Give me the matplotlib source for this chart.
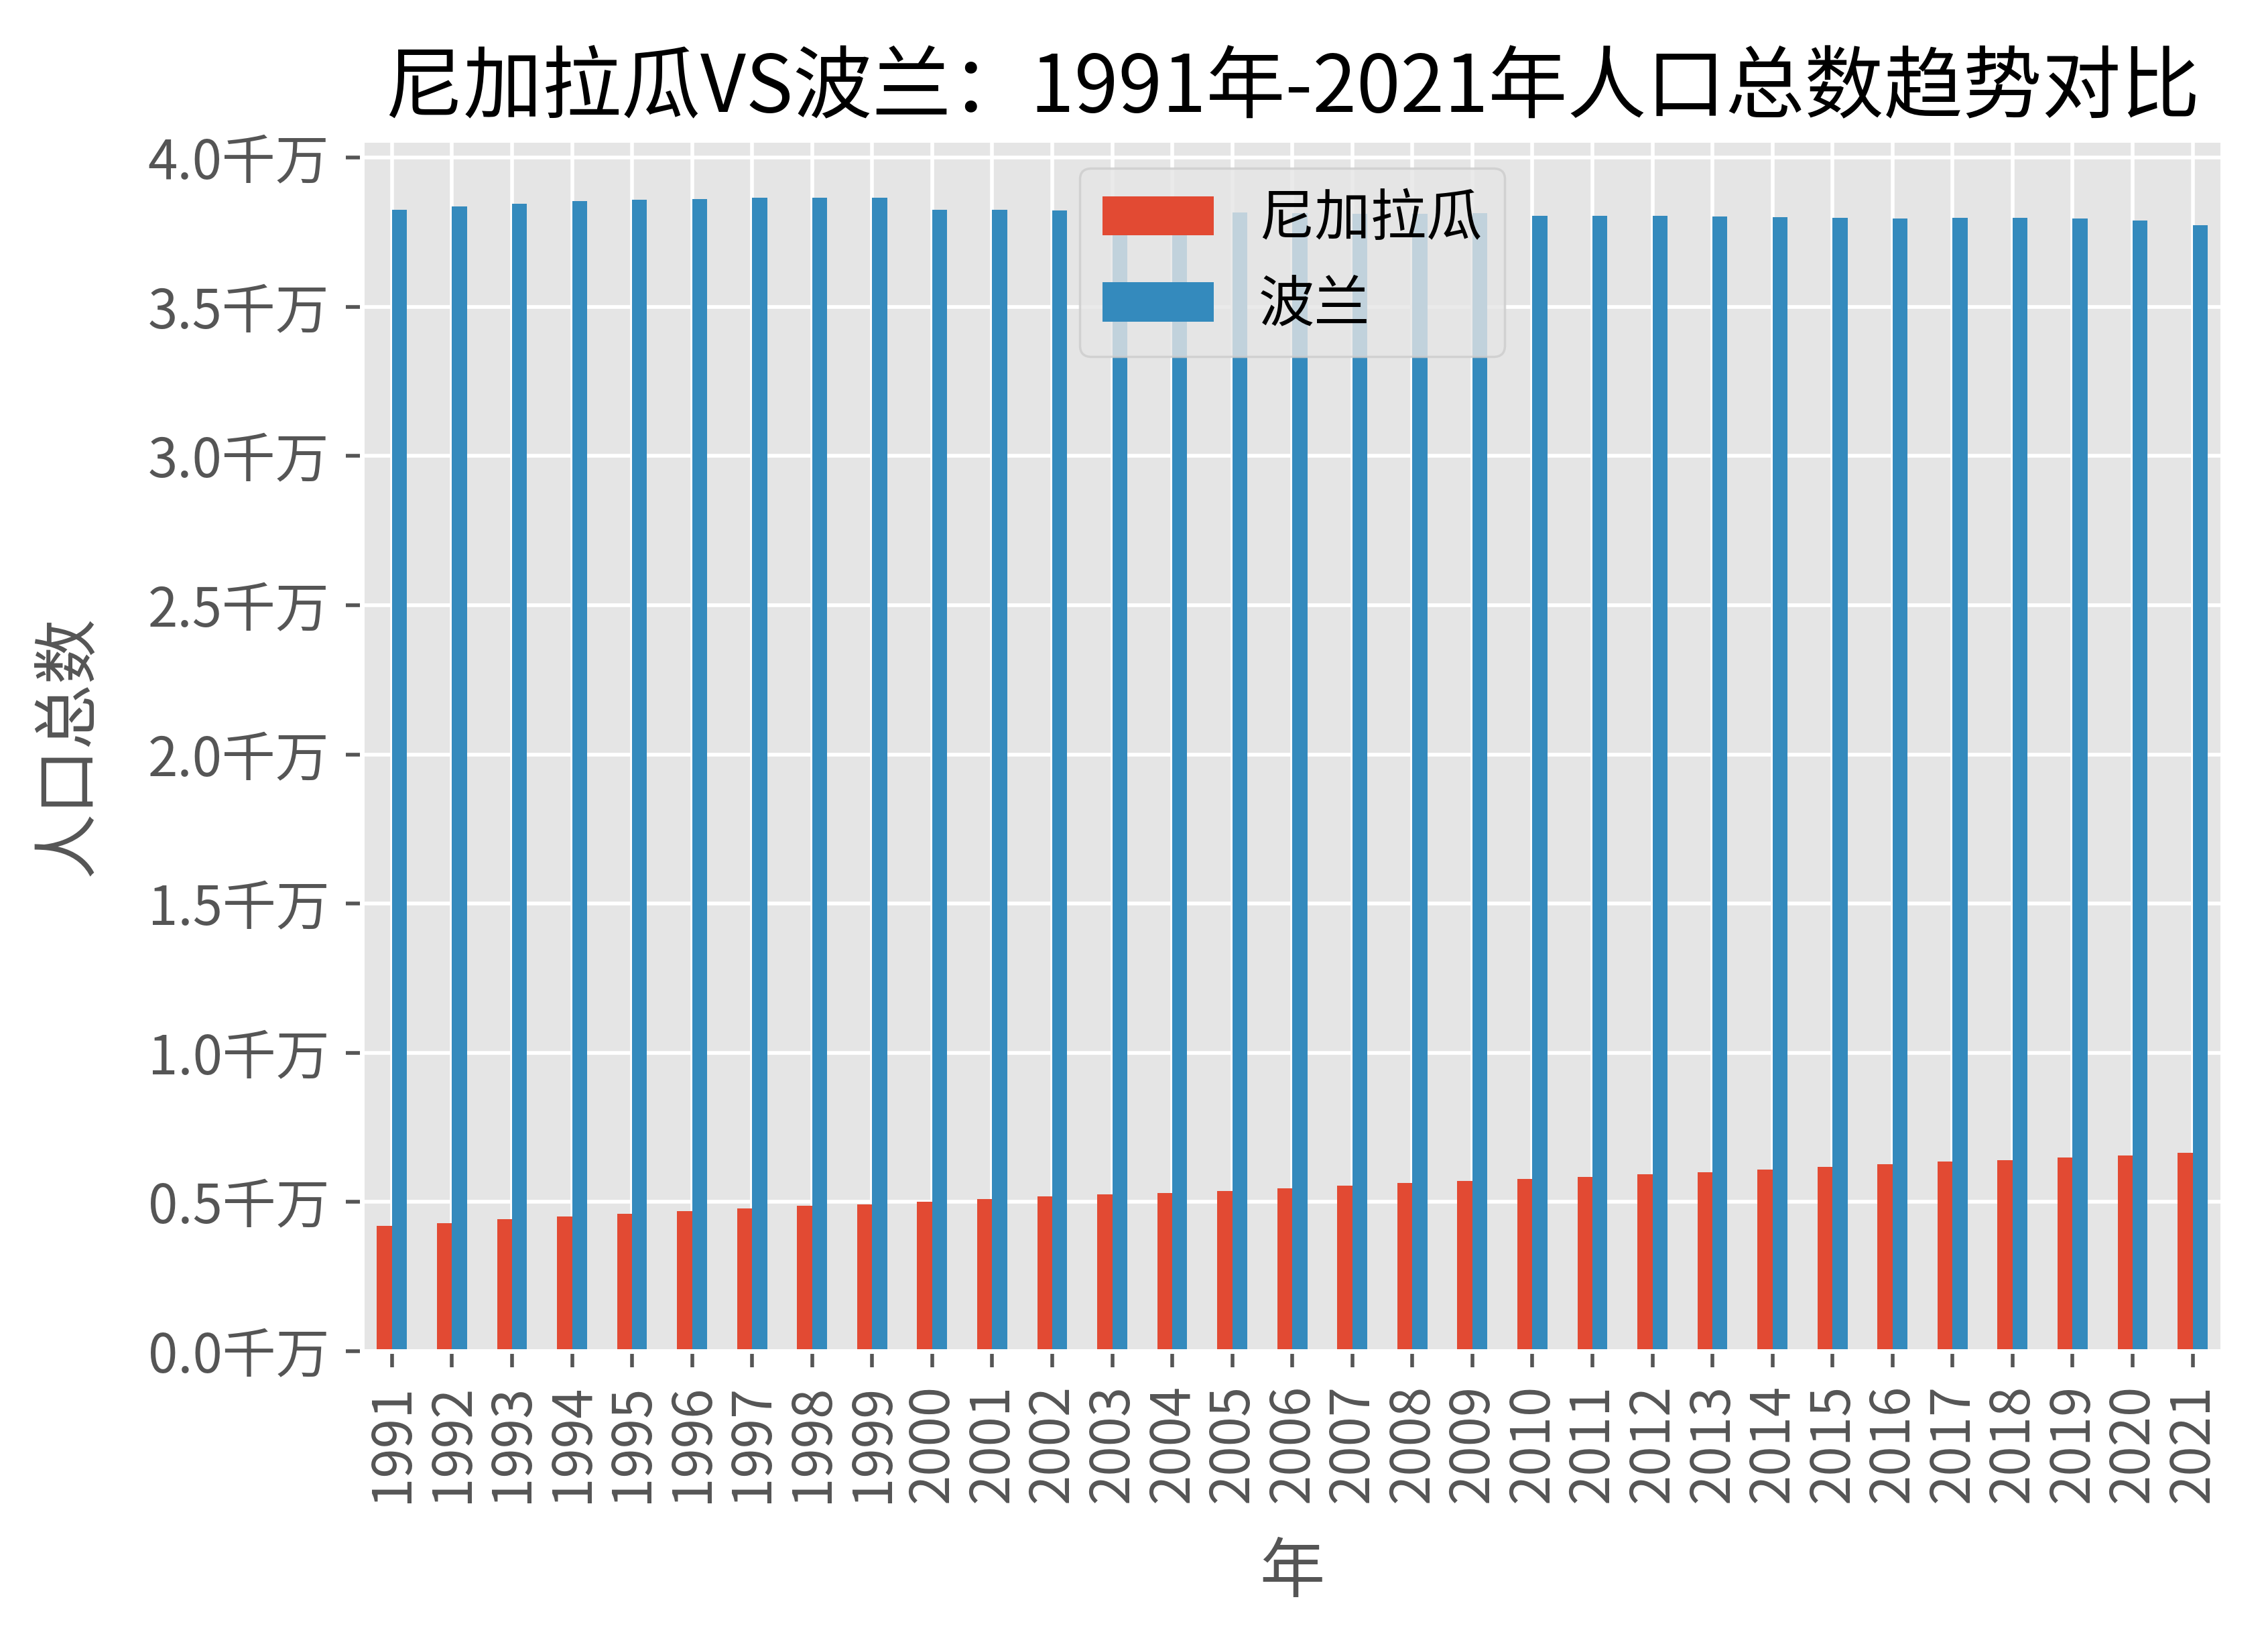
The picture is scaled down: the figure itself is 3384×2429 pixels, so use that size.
import matplotlib
matplotlib.use("Agg")
import matplotlib.pyplot as plt
from matplotlib.ticker import FuncFormatter
import pandas as pd

plt.style.use("ggplot")
plt.rcParams["font.family"] = ["Noto Sans CJK SC", "DejaVu Sans"]
plt.rcParams["axes.unicode_minus"] = False

years = list(range(1991, 2022))

# population, in persons
nicaragua = [
    4210000, 4300000, 4420000, 4510000, 4600000, 4690000, 4780000, 4870000,
    4930000, 5020000, 5090000, 5180000, 5250000, 5310000, 5380000, 5470000,
    5540000, 5630000, 5700000, 5780000, 5850000, 5940000, 6010000, 6100000,
    6170000, 6260000, 6350000, 6410000, 6500000, 6570000, 6660000,
]
poland = [
    38244000, 38365000, 38459000, 38544000, 38595000, 38624000, 38650000,
    38660000, 38654000, 38258000, 38248000, 38230000, 38205000, 38182000,
    38165000, 38141000, 38120000, 38126000, 38152000, 38042794, 38063255,
    38063164, 38040196, 38011735, 37986412, 37970087, 37974826, 37974750,
    37965475, 37899070, 37747124,
]

df = pd.DataFrame({"尼加拉瓜": nicaragua, "波兰": poland}, index=years)
df.index.name = "年"

fig = plt.figure(figsize=(6.768, 4.858), dpi=500)
ax = fig.add_axes([0.1596, 0.170, 0.8204, 0.744])
df.plot(kind="bar", ax=ax)

ax.yaxis.set_major_formatter(FuncFormatter(lambda v, _: f"{v / 1e7:.1f}千万"))
ax.tick_params(axis="both", labelsize=11.5)
ax.set_xlabel("年", fontsize=14, labelpad=8)
ax.set_ylabel("人口总数", fontsize=14, labelpad=10)
ax.set_title("尼加拉瓜VS波兰：1991年-2021年人口总数趋势对比", fontsize=17, color="black")
ax.legend(loc="upper center", fontsize=12)

fig.savefig("out.png", dpi=500)
